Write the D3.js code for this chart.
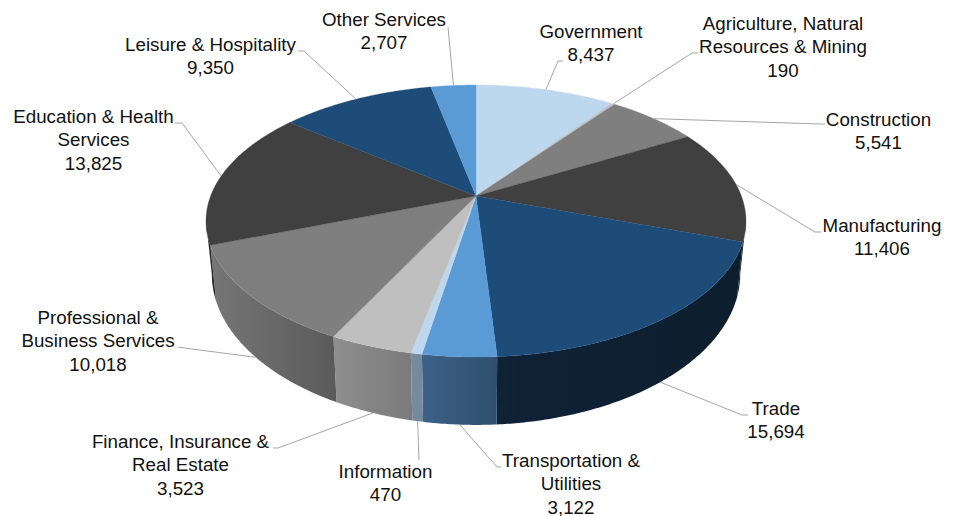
<!DOCTYPE html>
<html><head><meta charset="utf-8">
<script src="https://cdn.jsdelivr.net/npm/d3@7"></script>
<style>html,body{margin:0;background:#fff}svg{display:block}text{font-family:"Liberation Sans",Arial,sans-serif;font-size:18.75px;fill:#111}</style>
</head><body><svg id="c" width="953" height="516"></svg>
<script>
const categories = ["Government","Agriculture, Natural Resources & Mining","Construction","Manufacturing","Trade","Transportation & Utilities","Information","Finance, Insurance & Real Estate","Professional & Business Services","Education & Health Services","Leisure & Hospitality","Other Services"];
const values = [8437,190,5541,11406,15694,3122,470,3523,10018,13825,9350,2707];
const labelLines = [["Government"],["Agriculture, Natural","Resources & Mining"],["Construction"],["Manufacturing"],["Trade"],["Transportation &","Utilities"],["Information"],["Finance, Insurance &","Real Estate"],["Professional &","Business Services"],["Education & Health","Services"],["Leisure & Hospitality"],["Other Services"]];
const topColors = ["#BDD7EE","#BFBFBF","#7F7F7F","#404040","#1E4C78","#5B9BD5","#BDD7EE","#BFBFBF","#7F7F7F","#404040","#1E4C78","#5B9BD5"];
const wallColors = [null,null,null,["#1f1f1f","#1a1a1a"],["#0f2236","#0d1e2e"],["#3d6188","#2f4e6c"],["#778c9f","#73889b"],["#8f8f8f","#7a7a7a"],["#767676","#5a5a5a"],["#2a2a2a","#252525"],null,null];
const labelX = [591,783,878.5,882,776,571,385.5,180.5,98,93.5,210.5,384];
const labelY = [37.5,29.5,125.5,231.5,414.5,466.5,477.5,447.5,323.5,122.5,50.5,25.5];
const elbows = [[[558,61],[563,61]],[[692,53],[698,53]],[[820,124],[825,124]],[[815,232],[821,232]],[[742,415],[748,415]],[[497,467],[501,467]],[[419,460]],[[278,448],[273,448]],[[184,348],[178,347]],[[182,123],[175,123]],[[304,51],[298,51]],[[448,27]]];

const topRing = {cx:476, cy:196, R:265.4, A:131.4, p:0.184};
const botRing = {cx:476, cy:246, R:259.7, A:146, p:0.184};
function proj(g, a){
  const u = Math.sin(a), v = Math.cos(a), s = 1/(1+g.p*v);
  return [g.cx + g.R*u*s, g.cy - g.A*v*s];
}
const svg = d3.select("#c");
const defs = svg.append("defs");
const arcs = d3.pie().sort(null).value(d=>d)(values);
const fmt = d3.format(",");
const line = d3.line();
const step = Math.PI/360;
function samples(a0,a1){
  const n = Math.max(2, Math.ceil((a1-a0)/step)+1);
  return d3.range(n).map(i=>a0+(a1-a0)*i/(n-1));
}
const wallMin = 100.6*Math.PI/180, wallMax = 259.4*Math.PI/180;

// walls
arcs.forEach((d,i)=>{
  const a0 = Math.max(d.startAngle, wallMin), a1 = Math.min(d.endAngle, wallMax);
  if(a1<=a0 || !wallColors[i]) return;
  const t = samples(a0,a1);
  const pts = t.map(a=>proj(topRing,a)).concat(t.slice().reverse().map(a=>proj(botRing,a)));
  const xs = pts.map(p=>p[0]);
  const id = "w"+i;
  const lg = defs.append("linearGradient").attr("id",id).attr("gradientUnits","userSpaceOnUse")
    .attr("x1",d3.min(xs)).attr("x2",d3.max(xs)).attr("y1",0).attr("y2",0);
  lg.append("stop").attr("offset",0).attr("stop-color",wallColors[i][0]);
  lg.append("stop").attr("offset",1).attr("stop-color",wallColors[i][1]);
  svg.append("path").attr("d",line(pts)+"Z").attr("fill",`url(#${id})`);
});
// tops
arcs.forEach((d,i)=>{
  const pts = [[topRing.cx,topRing.cy]].concat(samples(d.startAngle,d.endAngle).map(a=>proj(topRing,a)));
  svg.append("path").attr("d",line(pts)+"Z").attr("fill",topColors[i]).attr("stroke",topColors[i]).attr("stroke-width",0.3);
});
// leaders
arcs.forEach((d,i)=>{
  const mid = (d.startAngle+d.endAngle)/2;
  const front = mid>wallMin && mid<wallMax;
  const start = proj(front?botRing:topRing, mid);
  svg.append("path").attr("d",line([start].concat(elbows[i]))).attr("fill","none").attr("stroke","#a6a6a6").attr("stroke-width",1);
});
// labels
categories.forEach((c,i)=>{
  const lines = labelLines[i].concat([fmt(values[i])]);
  const t = svg.append("text").attr("text-anchor","middle").attr("aria-label",c);
  lines.forEach((l,j)=>t.append("tspan").attr("x",labelX[i]).attr("y",labelY[i]+j*23.7).text(l));
});
</script></body></html>
